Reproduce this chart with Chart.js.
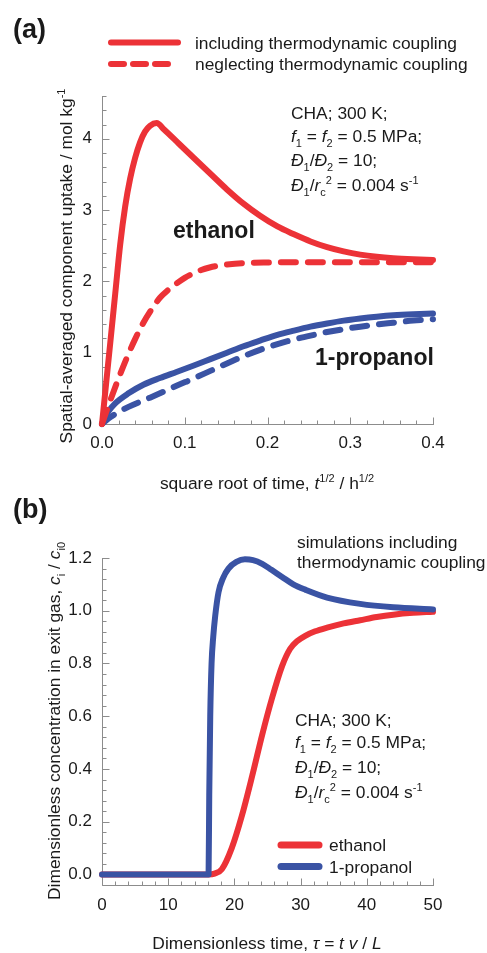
<!DOCTYPE html>
<html>
<head>
<meta charset="utf-8">
<script src="https://cdn.jsdelivr.net/npm/chart.js@4.4.1/dist/chart.umd.min.js"></script>
<style>
  body { margin: 0; background: #fff; }
  .box { position: absolute; left: 0; width: 487px; }
  #boxA { top: 0; height: 497px; }
  #boxB { top: 497px; height: 456px; }
</style>
</head>
<body>
<div class="box" id="boxA"><canvas id="grafA"></canvas></div>
<div class="box" id="boxB"><canvas id="grafB"></canvas></div>
<script>
const RED = '#ec3237';
const BLUE = '#3a53a4';
const INK = '#1a1a1a';
const FONT = '"Liberation Sans", Arial, sans-serif';

// ---- (a) uptake vs square root of time ----
const tA_ethIncl = [0, 0.005, 0.01, 0.016, 0.022, 0.028, 0.034, 0.04, 0.046, 0.052, 0.058, 0.066, 0.075, 0.093, 0.111, 0.131, 0.151, 0.171, 0.191, 0.212, 0.232, 0.252, 0.272, 0.292, 0.312, 0.332, 0.352, 0.376, 0.4];
const qA_ethIncl = [0, 0.57, 1.14, 1.83, 2.52, 3.05, 3.44, 3.73, 3.95, 4.1, 4.18, 4.22, 4.13, 3.93, 3.73, 3.51, 3.29, 3.09, 2.92, 2.77, 2.66, 2.56, 2.48, 2.42, 2.375, 2.345, 2.325, 2.31, 2.3];

const tA_ethNeg = [0, 0.01, 0.02, 0.03, 0.04, 0.05, 0.06, 0.07, 0.08, 0.09, 0.1, 0.11, 0.12, 0.13, 0.14, 0.15, 0.17, 0.2, 0.25, 0.3, 0.4];
const qA_ethNeg = [0, 0.33, 0.64, 0.93, 1.19, 1.42, 1.61, 1.77, 1.88, 1.97, 2.05, 2.11, 2.16, 2.195, 2.22, 2.235, 2.255, 2.265, 2.27, 2.27, 2.27];

const tA_propIncl = [0, 0.004, 0.008, 0.016, 0.032, 0.05, 0.07, 0.09, 0.111, 0.131, 0.151, 0.171, 0.191, 0.212, 0.232, 0.252, 0.272, 0.292, 0.312, 0.332, 0.352, 0.376, 0.4];
const qA_propIncl = [0, 0.1, 0.18, 0.29, 0.43, 0.55, 0.645, 0.73, 0.82, 0.91, 1.0, 1.09, 1.17, 1.25, 1.31, 1.365, 1.41, 1.45, 1.48, 1.505, 1.525, 1.54, 1.55];

const tA_propNeg = [0, 0.008, 0.016, 0.032, 0.052, 0.07, 0.09, 0.111, 0.131, 0.151, 0.171, 0.191, 0.212, 0.232, 0.252, 0.272, 0.292, 0.312, 0.332, 0.352, 0.376, 0.4];
const qA_propNeg = [0, 0.08, 0.14, 0.24, 0.34, 0.43, 0.535, 0.64, 0.745, 0.85, 0.95, 1.04, 1.12, 1.185, 1.24, 1.29, 1.33, 1.365, 1.395, 1.42, 1.45, 1.47];

const ticksA_x = [0, 0.1, 0.2, 0.3, 0.4];
const ticksA_y = [0, 1, 2, 3, 4];

// ---- (b) breakthrough curves ----
const tauB_eth = [0, 16.1, 17, 18.1, 19.6, 21.1, 22.7, 24.2, 25.7, 27.2, 28.4, 29.5, 30.7, 32.2, 34, 36.5, 39, 41.5, 44, 47, 50];
const cB_eth = [0, 0, 0.003, 0.02, 0.1, 0.22, 0.375, 0.53, 0.67, 0.79, 0.855, 0.885, 0.905, 0.922, 0.936, 0.952, 0.964, 0.976, 0.985, 0.992, 0.996];

const tauB_prop = [0, 16.1, 16.2, 16.35, 16.55, 16.8, 17.1, 17.6, 18.3, 19.1, 20.3, 21.6, 22.8, 24.2, 25.6, 27.2, 28.9, 30.7, 34, 39, 44, 50];
const cB_prop = [0, 0, 0.3, 0.6, 0.8, 0.9, 0.98, 1.07, 1.125, 1.16, 1.185, 1.195, 1.192, 1.178, 1.155, 1.128, 1.1, 1.08, 1.05, 1.026, 1.013, 1.005];

const ticksB_x = [0, 10, 20, 30, 40, 50];
const ticksB_y = [0, 0.2, 0.4, 0.6, 0.8, 1.0, 1.2];

const pts = (xs, ys) => xs.map((x, i) => ({ x: x, y: ys[i] }));

// rich text: segments [texto, estilo] ; estilo: 'i' italic, 'b' bold, 'sub', 'sup'
function segFont(st, size) {
  const small = st === 'sub' || st === 'sup';
  const sz = small ? Math.round(size * 0.65) : size;
  return (st === 'i' ? 'italic ' : '') + (st === 'b' ? 'bold ' : '') + sz + 'px ' + FONT;
}
function richWidth(ctx, segs, size) {
  let w = 0;
  segs.forEach(s => { ctx.font = segFont(s[1], size); w += ctx.measureText(s[0]).width; });
  return w;
}
function rich(ctx, segs, x, y, size, center) {
  let cx = center ? x - richWidth(ctx, segs, size) / 2 : x;
  ctx.textAlign = 'left';
  ctx.textBaseline = 'alphabetic';
  segs.forEach(s => {
    ctx.font = segFont(s[1], size);
    const dy = s[1] === 'sup' ? -size * 0.42 : (s[1] === 'sub' ? size * 0.28 : 0);
    ctx.fillText(s[0], cx, y + dy);
    cx += ctx.measureText(s[0]).width;
  });
}
function richUp(ctx, segs, x, y, size) {
  ctx.save();
  ctx.translate(x, y);
  ctx.rotate(-Math.PI / 2);
  rich(ctx, segs, 0, 0, size, true);
  ctx.restore();
}

// eixos com ticks para dentro (major + minor)
function eixos(xMinor, yMinor) {
  return {
    id: 'eixos',
    beforeDatasetsDraw(chart) {
      const ctx = chart.ctx, area = chart.chartArea;
      const sx = chart.scales.x, sy = chart.scales.y;
      const isMajor = (sc, v, step) => sc.ticks.some(t => Math.abs(t.value - v) < step / 10);
      const x0 = Math.round(area.left) + 0.5, y0 = Math.round(area.bottom) + 0.5;
      ctx.save();
      ctx.strokeStyle = '#8c8c8c';
      ctx.lineWidth = 1;
      ctx.beginPath();
      ctx.moveTo(x0, Math.round(area.top));
      ctx.lineTo(x0, y0);
      ctx.lineTo(Math.round(area.right) + 1, y0);
      const nx = Math.round((sx.max - sx.min) / xMinor);
      for (let i = 0; i <= nx; i++) {
        const v = sx.min + i * xMinor;
        const px = Math.round(sx.getPixelForValue(v)) + 0.5;
        const len = isMajor(sx, v, xMinor) ? 7 : 4;
        ctx.moveTo(px, y0);
        ctx.lineTo(px, y0 - len);
      }
      const ny = Math.round((sy.max - sy.min) / yMinor);
      for (let i = 0; i <= ny; i++) {
        const v = sy.min + i * yMinor;
        const py = Math.round(sy.getPixelForValue(v)) + 0.5;
        const len = isMajor(sy, v, yMinor) ? 7 : 4;
        ctx.moveTo(x0, py);
        ctx.lineTo(x0 + len, py);
      }
      ctx.stroke();
      ctx.restore();
    }
  };
}

function escala(min, max, lista, fmt, pad, extra) {
  return Object.assign({
    type: 'linear',
    min: min,
    max: max,
    grid: { display: false, drawTicks: false },
    border: { display: false },
    afterBuildTicks: s => { s.ticks = lista.map(v => ({ value: v })); },
    ticks: { font: { size: 17, family: FONT }, color: INK, maxRotation: 0, padding: pad, callback: fmt }
  }, extra);
}

const linha = (label, data, cor, tracejado, ordem) => ({
  label: label,
  data: data,
  borderColor: cor,
  borderWidth: 6,
  borderDash: tracejado ? [15, 12] : [],
  borderCapStyle: 'round',
  borderJoinStyle: 'round',
  cubicInterpolationMode: 'monotone',
  pointRadius: 0,
  fill: false,
  clip: false,
  order: ordem
});

// ---------- gráfico (a) ----------
const textoA = {
  id: 'textoA',
  afterDraw(chart) {
    const ctx = chart.ctx;
    ctx.save();
    ctx.fillStyle = INK;
    ctx.font = 'bold 27px ' + FONT;
    ctx.textBaseline = 'middle';
    ctx.fillText('(a)', 13, 31);

    // legenda
    ctx.strokeStyle = RED;
    ctx.lineWidth = 6;
    ctx.lineCap = 'round';
    ctx.beginPath(); ctx.moveTo(111, 42.5); ctx.lineTo(178, 42.5); ctx.stroke();
    ctx.setLineDash([13, 9]);
    ctx.beginPath(); ctx.moveTo(111, 64); ctx.lineTo(172, 64); ctx.stroke();
    ctx.setLineDash([]);
    rich(ctx, [['including thermodynamic coupling', '']], 195, 48.5, 17.4);
    rich(ctx, [['neglecting thermodynamic coupling', '']], 195, 70, 17.4);

    // condições
    rich(ctx, [['CHA; 300 K;', '']], 291, 119, 17.4);
    rich(ctx, [['f', 'i'], ['1', 'sub'], [' = ', ''], ['f', 'i'], ['2', 'sub'], [' = 0.5 MPa;', '']], 291, 142, 17.4);
    rich(ctx, [['Đ', 'i'], ['1', 'sub'], ['/', ''], ['Đ', 'i'], ['2', 'sub'], [' = 10;', '']], 291, 166, 17.4);
    rich(ctx, [['Đ', 'i'], ['1', 'sub'], ['/', ''], ['r', 'i'], ['c', 'sub'], ['2', 'sup'], [' = 0.004 s', ''], ['-1', 'sup']], 291, 191, 17.4);

    rich(ctx, [['ethanol', 'b']], 173, 238, 23);
    rich(ctx, [['1-propanol', 'b']], 315, 365, 23);

    // títulos dos eixos
    rich(ctx, [['square root of time, ', ''], ['t', 'i'], ['1/2', 'sup'], [' / h', ''], ['1/2', 'sup']], 267, 489, 17.4, true);
    richUp(ctx, [['Spatial-averaged component uptake / mol kg', ''], ['-1', 'sup']], 72, 266, 17.4);
    ctx.restore();
  }
};

new Chart(document.getElementById('grafA'), {
  type: 'line',
  data: {
    datasets: [
      linha('ethanol, including', pts(tA_ethIncl, qA_ethIncl), RED, false, 1),
      linha('ethanol, neglecting', pts(tA_ethNeg, qA_ethNeg), RED, true, 2),
      linha('1-propanol, including', pts(tA_propIncl, qA_propIncl), BLUE, false, 3),
      linha('1-propanol, neglecting', pts(tA_propNeg, qA_propNeg), BLUE, true, 4)
    ]
  },
  options: {
    responsive: true,
    maintainAspectRatio: false,
    animation: false,
    layout: { padding: { top: 96, right: 54, left: 0, bottom: 0 } },
    plugins: { legend: { display: false }, tooltip: { enabled: false } },
    scales: {
      x: escala(0, 0.4, ticksA_x, v => v.toFixed(1), 9, { afterFit: s => { s.height = 73; } }),
      y: escala(0, 4.6, ticksA_y, v => String(v), 10, { afterFit: s => { s.width = 102; } })
    }
  },
  plugins: [eixos(0.02, 0.2), textoA]
});

// ---------- gráfico (b) ----------
const textoB = {
  id: 'textoB',
  afterDraw(chart) {
    const ctx = chart.ctx;
    ctx.save();
    ctx.fillStyle = INK;
    ctx.font = 'bold 27px ' + FONT;
    ctx.textBaseline = 'middle';
    ctx.fillText('(b)', 13, 14);

    rich(ctx, [['simulations including', '']], 297, 50.5, 17.4);
    rich(ctx, [['thermodynamic coupling', '']], 297, 70.5, 17.4);

    rich(ctx, [['CHA; 300 K;', '']], 295, 229, 17.4);
    rich(ctx, [['f', 'i'], ['1', 'sub'], [' = ', ''], ['f', 'i'], ['2', 'sub'], [' = 0.5 MPa;', '']], 295, 251, 17.4);
    rich(ctx, [['Đ', 'i'], ['1', 'sub'], ['/', ''], ['Đ', 'i'], ['2', 'sub'], [' = 10;', '']], 295, 276, 17.4);
    rich(ctx, [['Đ', 'i'], ['1', 'sub'], ['/', ''], ['r', 'i'], ['c', 'sub'], ['2', 'sup'], [' = 0.004 s', ''], ['-1', 'sup']], 295, 301, 17.4);

    // legenda
    ctx.lineWidth = 7;
    ctx.lineCap = 'round';
    ctx.strokeStyle = RED;
    ctx.beginPath(); ctx.moveTo(281, 348); ctx.lineTo(319, 348); ctx.stroke();
    ctx.strokeStyle = BLUE;
    ctx.beginPath(); ctx.moveTo(281, 369.5); ctx.lineTo(319, 369.5); ctx.stroke();
    rich(ctx, [['ethanol', '']], 329, 354, 17.4);
    rich(ctx, [['1-propanol', '']], 329, 375.5, 17.4);

    rich(ctx, [['Dimensionless time, ', ''], ['τ', 'i'], [' = ', ''], ['t', 'i'], [' ', ''], ['v', 'i'], [' / ', ''], ['L', 'i']], 267, 452, 17.4, true);
    richUp(ctx, [['Dimensionless concentration in exit gas, ', ''], ['c', 'i'], ['i', 'sub'], [' / ', ''], ['c', 'i'], ['i0', 'sub']], 60, 224, 17.4);
    ctx.restore();
  }
};

new Chart(document.getElementById('grafB'), {
  type: 'line',
  data: {
    datasets: [
      linha('ethanol', pts(tauB_eth, cB_eth), RED, false, 2),
      linha('1-propanol', pts(tauB_prop, cB_prop), BLUE, false, 1)
    ]
  },
  options: {
    responsive: true,
    maintainAspectRatio: false,
    animation: false,
    layout: { padding: { top: 61, right: 54, left: 0, bottom: 0 } },
    plugins: { legend: { display: false }, tooltip: { enabled: false } },
    scales: {
      x: escala(0, 50, ticksB_x, v => String(v), 10, { afterFit: s => { s.height = 68; } }),
      y: escala(-0.04, 1.2, ticksB_y, v => v.toFixed(1), 10, { afterFit: s => { s.width = 102; } })
    }
  },
  plugins: [eixos(2, 0.04), textoB]
});
</script>
</body>
</html>
